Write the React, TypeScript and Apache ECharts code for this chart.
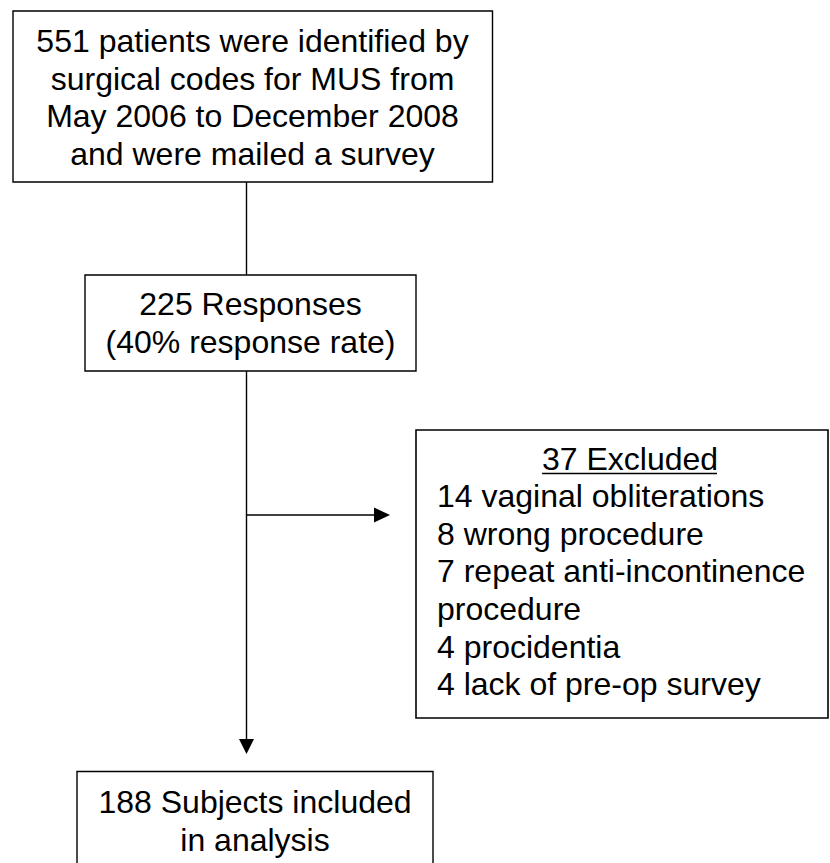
import React, { useEffect, useRef } from "react";
import * as echarts from "echarts";

const box1Lines = [
  "551 patients were identified by",
  "surgical codes for MUS from",
  "May 2006 to December 2008",
  "and were mailed a survey",
];
const box2Lines = ["225 Responses", "(40% response rate)"];
const excludedTitle = "37 Excluded";
const excludedLines = [
  "14 vaginal obliterations",
  "8 wrong procedure",
  "7 repeat anti-incontinence",
  "procedure",
  "4 procidentia",
  "4 lack of pre-op survey",
];
const box4Lines = ["188 Subjects included", "in analysis"];

const FONT = '"Liberation Sans", Arial, Helvetica, sans-serif';
const FS = 32;
const LH = 37.7;
const STROKE = "#000";

function rect(x1: number, y1: number, x2: number, y2: number, lw = 1.4) {
  return {
    type: "rect",
    shape: { x: x1, y: y1, width: x2 - x1, height: y2 - y1 },
    style: { fill: "#fff", stroke: STROKE, lineWidth: lw },
  };
}
function line(x1: number, y1: number, x2: number, y2: number, lw = 1.4) {
  return {
    type: "line",
    shape: { x1, y1, x2, y2 },
    style: { stroke: STROKE, lineWidth: lw },
  };
}
function centeredText(lines: string[], cx: number, firstBaseline: number) {
  return lines.map((t, i) => ({
    type: "text",
    x: cx,
    y: firstBaseline + i * LH - FS * 0.35,
    style: {
      text: t,
      fill: "#000",
      font: `${FS}px ${FONT}`,
      align: "center",
      verticalAlign: "middle",
    },
  }));
}
function leftText(lines: string[], x: number, firstBaseline: number) {
  return lines.map((t, i) => ({
    type: "text",
    x,
    y: firstBaseline + i * LH - FS * 0.35,
    style: {
      text: t,
      fill: "#000",
      font: `${FS}px ${FONT}`,
      align: "left",
      verticalAlign: "middle",
    },
  }));
}

export default function App() {
  const ref = useRef<HTMLDivElement>(null);
  useEffect(() => {
    if (!ref.current) return;
    const chart = echarts.init(ref.current, null, { renderer: "svg" });
    const cx = 246.5;
    const elements: any[] = [
      // connectors
      line(cx, 182, cx, 275),
      line(cx, 371, cx, 742),
      {
        type: "polygon",
        shape: { points: [[cx - 7.5, 739], [cx + 7.5, 739], [cx, 754]] },
        style: { fill: "#000" },
      },
      line(cx, 515, 377, 515, 1.6),
      {
        type: "polygon",
        shape: { points: [[374, 507.5], [374, 522.5], [390, 515]] },
        style: { fill: "#000" },
      },
      // boxes
      rect(13, 11, 492.5, 182),
      rect(85, 275, 416, 371),
      rect(416, 430, 828, 718, 1.6),
      rect(77, 771.5, 433, 900),
      // texts
      ...centeredText(box1Lines, 252.5, 52),
      ...centeredText(box2Lines, 250.5, 315),
      ...centeredText([excludedTitle], 630, 470),
      line(542, 473.5, 717, 473.5, 1.6),
      ...leftText(excludedLines, 437, 507),
      ...centeredText(box4Lines, 255, 813),
    ];
    chart.setOption({
      animation: false,
      graphic: { elements },
    });
    return () => chart.dispose();
  }, []);
  return (
    <div
      ref={ref}
      style={{ position: "fixed", left: 0, top: 0, width: 830, height: 863, background: "#fff" }}
    />
  );
}
